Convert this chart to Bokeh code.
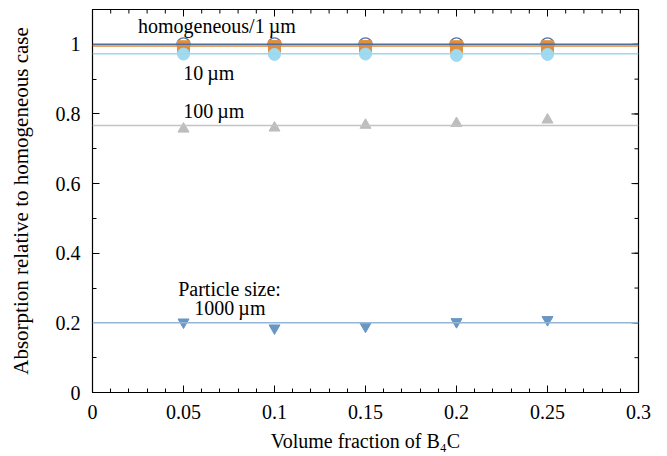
import math
from bokeh.plotting import figure
from bokeh.models import Span, Range1d, Label, FixedTicker
from bokeh.embed import file_html
from bokeh.resources import INLINE

# data
volume_fraction = [0.05, 0.10, 0.15, 0.20, 0.25]
homogeneous = [1.000, 1.000, 1.000, 1.000, 1.000]
size_1um = [0.993, 0.994, 0.994, 0.993, 0.993]
size_10um = [0.972, 0.971, 0.972, 0.968, 0.971]
size_100um = [0.757, 0.760, 0.768, 0.773, 0.783]
size_1000um = [0.202, 0.185, 0.190, 0.203, 0.209]

ref_homogeneous = 1.000
ref_1um = 0.995
ref_10um = 0.973
ref_100um = 0.767
ref_1000um = 0.200

x_ticks = [0, 0.05, 0.1, 0.15, 0.2, 0.25, 0.3]
x_minor = [round(i * 0.01, 2) for i in range(31)]
y_ticks = [0, 0.2, 0.4, 0.6, 0.8, 1.0]
y_minor = [round(i * 0.1, 1) for i in range(12)]

X_MAX = 0.3
Y_MAX = 1.1

FONT = "Liberation Serif"
FS = "20px"

p = figure(width=651, height=440, output_backend="svg", toolbar_location=None,
           x_range=Range1d(0, X_MAX), y_range=Range1d(0, Y_MAX),
           frame_width=546, frame_height=383,
           min_border_left=92, min_border_right=29, min_border_top=9, min_border_bottom=10)
p.grid.visible = False
p.outline_line_color = "black"
p.outline_line_width = 1.2
p.background_fill_color = "white"
p.border_fill_color = "white"

for ax in (p.xaxis[0], p.yaxis[0]):
    ax.axis_line_color = "black"
    ax.major_tick_in = 7
    ax.major_tick_out = 0
    ax.minor_tick_in = 4
    ax.minor_tick_out = 0
    ax.major_tick_line_color = "black"
    ax.minor_tick_line_color = "black"
    ax.major_label_text_font = FONT
    ax.major_label_text_font_size = FS
    ax.major_label_text_color = "black"
    ax.axis_label_text_font = FONT
    ax.axis_label_text_font_size = FS
    ax.axis_label_text_font_style = "normal"
    ax.axis_label_text_color = "black"

p.xaxis.ticker = FixedTicker(ticks=x_ticks, minor_ticks=x_minor)
p.yaxis.ticker = FixedTicker(ticks=y_ticks, minor_ticks=y_minor)
p.xaxis.major_label_overrides = {0: "0", 0.1: "0.1", 0.2: "0.2", 0.3: "0.3"}
p.yaxis.major_label_overrides = {0: "0", 1.0: "1"}
p.xaxis.axis_label = "Volume fraction of B\u2084C"
p.yaxis.axis_label = "Absorption relative to homogeneous case"
p.yaxis.axis_label_text_font_size = "21px"
p.xaxis.major_label_standoff = 12
p.yaxis.major_label_standoff = 12
p.xaxis.axis_label_standoff = 8
p.yaxis.axis_label_standoff = 20

# mirrored ticks on top and right edges (clipped to the frame)
p.scatter(x_ticks, [Y_MAX] * len(x_ticks), marker="dash", angle=math.pi / 2, size=14,
          line_color="black", line_width=1)
p.scatter(x_minor, [Y_MAX] * len(x_minor), marker="dash", angle=math.pi / 2, size=8,
          line_color="black", line_width=1)
p.scatter([X_MAX] * len(y_ticks), y_ticks, marker="dash", size=14,
          line_color="black", line_width=1)
p.scatter([X_MAX] * len(y_minor), y_minor, marker="dash", size=8,
          line_color="black", line_width=1)

# reference lines
for loc, col in [(ref_homogeneous, "#4f6f9f"), (ref_1um, "#e08a3c"),
                 (ref_10um, "#9ad8ee"), (ref_100um, "#c4c4c4"),
                 (ref_1000um, "#93b5d6")]:
    p.add_layout(Span(location=loc, dimension="width", line_color=col, line_width=1.5))

# markers
p.scatter(volume_fraction, homogeneous, marker="circle", size=13, fill_color="white",
          line_color="#4f74aa", line_width=1.3)
p.scatter(volume_fraction, size_1um, marker="square", size=12, fill_color="#e08e3e",
          line_color="#e08e3e")
p.scatter(volume_fraction, size_10um, marker="circle", size=12, fill_color="#9fdaf0",
          line_color="#9fdaf0")
p.scatter(volume_fraction, size_100um, marker="triangle", size=11, fill_color="#bdbdbd",
          line_color="#bdbdbd")
p.scatter(volume_fraction, size_1000um, marker="inverted_triangle", size=11,
          fill_color="#6a96c4", line_color="#6a96c4")

def lab(x, y, t, align="left"):
    p.add_layout(Label(x=x, y=y, text=t, text_font=FONT, text_font_size=FS,
                       text_color="black", text_align=align, text_baseline="alphabetic"))

lab(0.025, 1.052, "homogeneous/1\u2009\u00b5m")
lab(0.0498, 0.917, "10\u2009\u00b5m")
lab(0.0498, 0.808, "100\u2009\u00b5m")
lab(0.0753, 0.296, "Particle size:", align="center")
lab(0.0755, 0.243, "1000\u2009\u00b5m", align="center")

open("out.html", "w").write(file_html(p, INLINE))
